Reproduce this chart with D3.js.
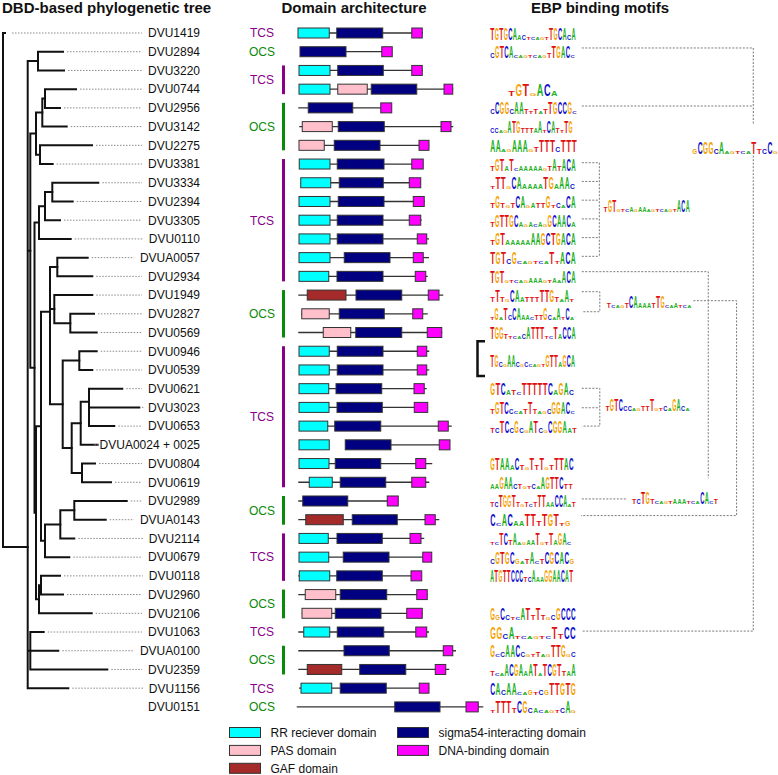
<!DOCTYPE html>
<html><head><meta charset="utf-8">
<script src="https://cdn.jsdelivr.net/npm/d3@7"></script>
<style>body{margin:0;background:#fff} svg{display:block;font-family:"Liberation Sans",Arial,sans-serif}</style>
</head><body><svg id="chart" width="778" height="775"></svg>
<script>
// ---------------- DATA ----------------
const genes = ["DVU1419","DVU2894","DVU3220","DVU0744","DVU2956","DVU3142","DVU2275","DVU3381","DVU3334","DVU2394","DVU3305","DVU0110","DVUA0057","DVU2934","DVU1949","DVU2827","DVU0569","DVU0946","DVU0539","DVU0621","DVU3023","DVU0653","DVUA0024 + 0025","DVU0804","DVU0619","DVU2989","DVUA0143","DVU2114","DVU0679","DVU0118","DVU2960","DVU2106","DVU1063","DVUA0100","DVU2359","DVU1156","DVU0151"];

// DBD-based tree: d = branch depth, yRow = optional drawn attachment row
const tree = {d:0, children:[
  {name:"DVU1419", d:2},
  {d:24.7, yRow:27.46, children:[
    {d:35, children:[{name:"DVU2894",d:60},{name:"DVU3220",d:61}]},
    {d:27.3, children:[
      {d:33, children:[
        {d:39.3, children:[
          {d:42, children:[{name:"DVU0744",d:73},{name:"DVU2956",d:57}]},
          {name:"DVU3142", d:63.7}]},
        {d:37, children:[{name:"DVU2275",d:89},{name:"DVU3381",d:49.7}]}]},
      {d:31.5, children:[
        {d:36, children:[
          {d:42, children:[
            {d:49.3, children:[{name:"DVU3334",d:95.3},{name:"DVU2394",d:69.7}]},
            {name:"DVU3305", d:57}]},
          {name:"DVU0110", d:67.7}]},
        {d:33, children:[
          {d:38, children:[
            {d:47, yRow:14.89, children:[
              {d:54.3, children:[{name:"DVUA0057",d:84.7},{name:"DVU2934",d:89.3}]},
              {d:51.3, children:[{name:"DVU1949",d:89.3},{d:67.3, children:[{name:"DVU2827",d:91},{name:"DVU0569",d:93.7}]}]},
              {d:59.7, children:[
                {d:76.3, children:[{name:"DVU0946",d:93.7},{name:"DVU0539",d:89.3}]},
                {d:68.7, children:[
                  {d:77.7, children:[
                    {d:86, yRow:19.7, children:[{name:"DVU0621",d:119.3},{name:"DVU3023",d:136.3},{name:"DVU0653",d:111.3}]},
                    {name:"DVUA0024 + 0025", d:94.7}]},
                  {d:79, children:[{name:"DVU0804",d:92},{name:"DVU0619",d:108}]}]}]}]},
            {d:42, children:[
              {d:57.3, children:[
                {d:71.3, children:[{name:"DVU2989",d:123.7},{name:"DVUA0143",d:102.7}]},
                {name:"DVU2114", d:71.3}]},
              {name:"DVU0679", d:66.3}]}]},
          {d:36, children:[
            {d:38, children:[{name:"DVU0118",d:57},{name:"DVU2960",d:60}]},
            {name:"DVU2106", d:88.7}]}]}]}]},
    {d:27.3, children:[{name:"DVU1063",d:40.7},{name:"DVUA0100",d:55.3},{name:"DVU2359",d:104.3}]},
    {name:"DVU1156", d:65.3}]}]};

// system type groups: [label, first row, last row]
const systemGroups = [["TCS",0,0],["OCS",1,1],["TCS",2,3],["OCS",4,6],["TCS",7,13],["OCS",14,16],["TCS",17,24],["OCS",25,26],["TCS",27,29],["OCS",30,31],["TCS",32,32],["OCS",33,34],["TCS",35,35],["OCS",36,36]];

// protein extents (residue-like units) per row
const proteinSpans = [[0,500],[8,377],[4,499],[4,621],[1,375],[5,621],[4,525],[4,501],[11,491],[4,507],[4,495],[4,524],[4,524],[4,519],[1,581],[12,519],[1,577],[4,525],[4,525],[4,515],[4,519],[4,615],[189,608],[4,537],[1,525],[1,401],[1,565],[4,505],[4,535],[1,495],[1,519],[15,499],[1,524],[1,632],[1,605],[4,525],[-5,741]];
// domains per row: [type, start, end]
const proteinDomains = [
 [["RR",0,125],["SIG",155,339],["DBD",455,497]],
 [["SIG",8,192],["DBD",335,377]],
 [["RR",4,128],["SIG",159,341],["DBD",455,497]],
 [["RR",4,128],["PAS",159,277],["SIG",293,475],["DBD",584,619]],
 [["SIG",41,219],["DBD",331,375]],
 [["PAS",17,137],["SIG",161,345],["DBD",572,612]],
 [["PAS",4,105],["SIG",145,328],["DBD",484,524]],
 [["RR",5,128],["SIG",157,344],["DBD",455,501]],
 [["RR",11,131],["SIG",165,341],["DBD",445,491]],
 [["RR",4,128],["SIG",161,344],["DBD",461,505]],
 [["RR",4,128],["SIG",157,340],["DBD",445,491]],
 [["RR",4,128],["SIG",157,340],["DBD",477,515]],
 [["RR",4,128],["SIG",185,368],["DBD",461,501]],
 [["RR",4,123],["SIG",156,340],["DBD",469,511]],
 [["GAF",37,192],["SIG",232,415],["DBD",521,564]],
 [["PAS",15,125],["SIG",165,345],["DBD",459,499]],
 [["PAS",101,211],["SIG",231,415],["DBD",517,575]],
 [["RR",4,125],["SIG",157,340],["DBD",477,515]],
 [["RR",4,125],["SIG",157,340],["DBD",477,515]],
 [["RR",4,123],["SIG",152,335],["DBD",464,505]],
 [["RR",4,124],["SIG",156,337],["DBD",465,519]],
 [["RR",4,119],["SIG",147,331],["DBD",561,601]],
 [["RR",4,125],["SIG",189,372],["DBD",565,608]],
 [["RR",4,124],["SIG",149,331],["DBD",471,511]],
 [["RR",45,137],["SIG",169,351],["DBD",455,511]],
 [["SIG",19,199],["DBD",357,401]],
 [["GAF",31,181],["SIG",217,397],["DBD",508,549]],
 [["RR",4,121],["SIG",156,337],["DBD",448,492]],
 [["RR",4,123],["SIG",181,364],["DBD",499,535]],
 [["RR",5,127],["SIG",155,337],["DBD",452,495]],
 [["PAS",29,151],["SIG",169,355],["DBD",475,517]],
 [["PAS",16,135],["SIG",149,332],["DBD",435,497]],
 [["RR",23,127],["SIG",157,343],["DBD",471,515]],
 [["SIG",184,365],["DBD",581,619]],
 [["GAF",37,175],["SIG",247,431],["DBD",549,591]],
 [["RR",12,135],["SIG",169,353],["DBD",485,524]],
 [["SIG",387,568],["DBD",672,721]]
];

const domainTypes = ["RR","PAS","GAF","SIG","DBD"];
const domainNames = ["RR reciever domain","PAS domain","GAF domain","sigma54-interacting domain","DNA-binding domain"];

// binding motif logos: [row, start pos, end pos, columns]  (Upper = strong, lower = weak, . = low info)
const motifLogos = [
 [0,0,19.1,"TGTGCAac.....TGCAcA"],
 [1,0,18.9,"cGTCA.......tTGAC."],
 [3,4,15.1,"tGT.ACa"],
 [4,0,19.3,"cCGGcAAt.t.tTGCCG."],
 [5,0,18.4,"cc..ATGtttaA.CAt.TG"],
 [6,0,19.3,"AA..AAA.tTTTcTTT"],
 [7,0,19.1,"tGTaT.aaaaa.tAtACA"],
 [8,0,18.9,".TT.CAaaaaTGaAAc"],
 [9,0,19.1,"tGt.tCA.attG.c.CA"],
 [10,0,19.1,"tGTTGCa.a.a.GCAACa"],
 [11,0,19.1,"tGTaaaaaAAGCTGACA"],
 [12,0,19.1,"TGTcG......T.ACA"],
 [13,0,19.1,"TGT.....aaa..a.ACA"],
 [14,0,18.7,"tTt.CAatttTTGt.A."],
 [15,0,18.7,".G.TcCAaa.ttGc.A.C."],
 [16,0,19.1,"TGGt...cATTT..TaCCA"],
 [17.47,0,18.9,"TGc.AAc.c....GTTaGCA"],
 [19,0,18.7,"GTCat.TTTTTCaGAc"],
 [20,0,18.9,"tGTCc..tTt..cGGAC."],
 [21,0,19.3,"tcTCcGc.ATc.CGGAat"],
 [23,0,18.6,"GTAAaCt.TtT.tTTAC"],
 [24,0,18.4,"aaGAAct..c.AGTTCtt"],
 [25,0,19.1,"tcTGGTt.t.tTTaaCCA.t"],
 [26,0,17.9,"C.ACaaTTtTGT.g"],
 [27,0,18.1,"..TCtA..aaT..TaGA."],
 [28,0,18.7,"cGTGCg.tA.tCGCACg"],
 [29,0,18.5,"ATGTTCCCtcAaaGGAACAT"],
 [31,0,19.1,"GgCc..ATtTt.cGCCC"],
 [32,0,19.1,"GGcA......TtCC"],
 [33,0,19.1,"G.cAACc..t..TTG.c"],
 [34,0,19.1,"t..ACGAaAT.TCGTtaA"],
 [35,0,19.1,"CAcAA..g.cgTTGTG"],
 [36,0,19.1,".TTTtCGca....cA."],
 // consensus motifs of clusters
 [9.19,25.2,44.4,"tGT...a.aa.......ACA"],
 [14.35,25.9,44.8,"t...tCAaaatTG..a..."],
 [19.87,25.6,44.4,"tGTCcc..ttT..c.GAc."],
 [24.79,31.5,50.7,"tcTGt....aaa...CA.t"],
 [6.09,44.9,64,"gCGGcA.....TtcC."]
];

// motif clustering links: polylines of [motif position, row]
const motifLinks = [
 [[20.4,0.8],[58.5,0.8],[58.5,4.85]],
 [[20.4,3.9],[58.5,3.9]],
 [[58.5,6.55],[58.5,31.95],[20.4,31.95]],
 [[20.4,6.93],[24.3,6.93]],[[20.4,7.93],[24.3,7.93]],[[20.4,8.93],[24.3,8.93]],
 [[20.4,9.93],[24.3,9.93]],[[20.4,10.93],[24.3,10.93]],[[20.4,11.93],[24.3,11.93]],
 [[24.3,6.93],[24.3,11.93]],
 [[20.4,13.82],[24.4,13.82],[24.4,14.89],[20.4,14.89]],
 [[45.2,14.3],[54.8,14.3],[54.8,25.78],[20.2,25.78]],
 [[20.4,18.98],[24.4,18.98],[24.4,21.0],[20.4,21.0]],
 [[20.4,20.02],[24.4,20.02]],
 [[20.4,24.89],[30.4,24.89]],
 [[20.4,12.75],[48.5,12.75],[48.5,23.79]]
];
const pairedMotifRows = [17,18];

// ---------------- DRAWING ----------------
const svg = d3.select("#chart");
const y = d3.scaleLinear().domain([0,36]).range([33,706.9]);
const xTree = d3.scaleLinear().domain([0,140]).range([3,143]);
const xDom = d3.scaleLinear().domain([0,800]).range([298,498]);
const xMot = d3.scaleLinear().domain([0,64]).range([490,778]);
const domColor = d3.scaleOrdinal().domain(domainTypes).range(["#00FFFF","#FFC0CB","#A52A2A","#000080","#FF00FF"]);
const sysColor = d3.scaleOrdinal().domain(["TCS","OCS"]).range(["#880088","#0A8A0A"]);
const baseColor = {A:"#22B022",C:"#1010CC",G:"#F5A000",T:"#E01010"};
const glyphW = {A:7.22,C:7.22,G:7.78,T:6.11};

// titles
const titles = [["DBD-based phylogenetic tree",2,"start"],["Domain architecture",354,"middle"],["EBP binding motifs",600,"middle"]];
svg.selectAll("text.title").data(titles).join("text").attr("class","title")
  .attr("x",d=>d[1]).attr("y",12.5).attr("text-anchor",d=>d[2])
  .attr("font-size",15).attr("font-weight","bold").attr("fill","#111").text(d=>d[0]);

// tree
const root = d3.hierarchy(tree);
root.eachAfter(n=>{
  if(!n.children){ n.py = y(genes.indexOf(n.data.name)); }
  else {
    const ys = n.children.map(c=>c.py);
    n.py = n.data.yRow!=null ? y(n.data.yRow) : (d3.min(ys)+d3.max(ys))/2;
  }
});
const gTree = svg.append("g");
root.each(n=>{
  if(!n.children) return;
  const ys = n.children.map(c=>c.py);
  const xn = xTree(n.data.d);
  let p = `M${xn},${d3.min(ys)}V${d3.max(ys)}`;
  n.children.forEach(c=>{ p += `M${xn},${c.py}H${xTree(c.data.d)}`; });
  gTree.append("path").attr("d",p).attr("fill","none").attr("stroke","#111").attr("stroke-width",2).attr("stroke-linecap","square");
});

// gene labels + dotted leaders
const labelRight = 200;
const leafX = {};
root.leaves().forEach(l=>leafX[l.data.name]=xTree(l.data.d));
const gLab = svg.append("g");
genes.forEach((g,i)=>{
  const t = gLab.append("text").attr("x",labelRight).attr("y",y(i)).attr("dy","0.36em")
    .attr("text-anchor","end").attr("font-size",12).attr("fill","#111").text(g);
  if(leafX[g]!==undefined){
    const w = t.node().getComputedTextLength();
    const x0 = leafX[g] + (i===0?7:4), x1 = labelRight - w - 6;
    gLab.append("line").attr("x1",x0).attr("x2",x1).attr("y1",y(i)).attr("y2",y(i))
      .attr("stroke","#8a8a8a").attr("stroke-width",1).attr("stroke-dasharray","1.5,1.5");
  }
});

// system groups
const gSys = svg.append("g");
systemGroups.forEach(([lab,a,b])=>{
  gSys.append("text").attr("x",262).attr("y",y((a+b)/2)).attr("dy","0.36em").attr("text-anchor","middle")
    .attr("font-size",12).attr("fill",sysColor(lab)).text(lab);
  if(b>a){
    gSys.append("rect").attr("x",282).attr("width",3).attr("y",y(a)-5).attr("height",y(b)-y(a)+10).attr("fill",sysColor(lab));
  }
});

// domain architecture
const gDom = svg.append("g");
proteinSpans.forEach((s,i)=>{
  gDom.append("line").attr("x1",xDom(s[0])).attr("x2",xDom(s[1])).attr("y1",y(i)).attr("y2",y(i))
    .attr("stroke","#333").attr("stroke-width",1.3);
  proteinDomains[i].forEach(([t,a,b])=>{
    gDom.append("rect").attr("x",xDom(a)).attr("width",xDom(b)-xDom(a)).attr("y",y(i)-5).attr("height",10)
      .attr("fill",domColor(t)).attr("stroke","#333").attr("stroke-width",1);
  });
});

// legend
const gLeg = svg.append("g");
domainTypes.forEach((t,i)=>{
  const col = i<3?0:1, r = i<3?i:i-3;
  const bx = col===0?229.5:397.5, cy = 732.5 + r*17.9;
  gLeg.append("rect").attr("x",bx).attr("y",cy-5).attr("width",31).attr("height",10)
    .attr("fill",domColor(t)).attr("stroke","#333").attr("stroke-width",1);
  gLeg.append("text").attr("x",bx+41).attr("y",cy).attr("dy","0.36em").attr("font-size",12).attr("fill","#111").text(domainNames[i]);
});

// motif links
const gLink = svg.append("g");
const lineGen = d3.line().x(d=>xMot(d[0])).y(d=>y(d[1]));
motifLinks.forEach(p=>{
  gLink.append("path").attr("d",lineGen(p)).attr("fill","none").attr("stroke","#7a7a7a")
    .attr("stroke-width",1).attr("stroke-dasharray","2,1.5");
});

// bracket for the shared motif
svg.append("path").attr("d",`M485,${y(pairedMotifRows[0])-10}H477.5V${y(pairedMotifRows[1])+6}H485`)
  .attr("fill","none").attr("stroke","#111").attr("stroke-width",2.5);

// logos
const gLogo = svg.append("g");
function letter(ch, cx, w, base, h, color){
  const L = ch.toUpperCase();
  gLogo.append("text").attr("transform",`translate(${cx},${base}) scale(${(w*0.92)/glyphW[L]},${h/7.16})`)
    .attr("text-anchor","middle").attr("font-size",10).attr("font-weight","bold").attr("fill",color).text(L);
}
const tinyCycle = "TCAG";
motifLogos.forEach(([row,s,e,seq])=>{
  const x0 = xMot(s), w = (xMot(e)-xMot(s))/seq.length;
  const base = y(row)+6.5;
  [...seq].forEach((ch,k)=>{
    const cx = x0 + w*k + w/2;
    if(ch==="."){
      letter(tinyCycle[k%4], cx, w, base, 2.2, baseColor[tinyCycle[k%4]]);
    } else if(ch===ch.toUpperCase()){
      letter(ch, cx, w, base, 12, baseColor[ch]);
    } else {
      letter(ch, cx, w, base, 4.8, baseColor[ch.toUpperCase()]);
    }
  });
});
</script></body></html>
